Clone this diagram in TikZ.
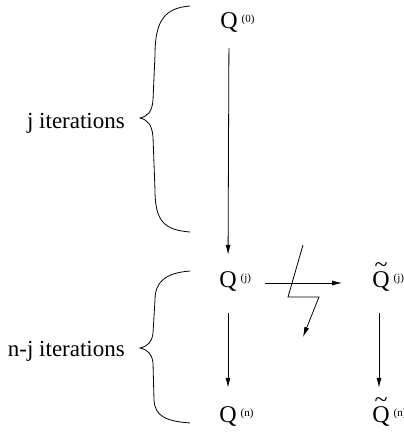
\documentclass[tikz,border=0pt]{standalone}
\usepackage{fontspec}
\setmainfont{Liberation Serif}
\usetikzlibrary{arrows.meta}
\newcommand{\supf}{\fontsize{11}{11}\selectfont}
\newcommand{\qsup}[2]{#1\rlap{\,\raisebox{6.5pt}{\supf(#2)}}}
\newcommand{\tilq}{\leavevmode\setbox0\hbox{Q}\rlap{\hbox to \wd0{\hss\raisebox{15pt}{\~{}}\hss}}Q}
\begin{document}
\begin{tikzpicture}[x=1pt,y=-1pt,
  qnode/.style={inner sep=0pt,text height=15pt,text depth=0pt,font=\fontsize{24}{28}\selectfont},
  lbl/.style={inner sep=0pt,anchor=base east,font=\fontsize{23}{27}\selectfont},
  arr/.style={line width=0.8pt,-{Latex[length=10pt,width=5pt]}},
  brc/.style={line width=0.8pt}]
\useasboundingbox (0,0) rectangle (404,432);
% nodes
\node[qnode] (q0) at (229,21) {\qsup{Q}{0}};
\node[qnode] (qj) at (228,280) {\qsup{Q}{j}};
\node[qnode] (qn) at (228,415) {\qsup{Q}{n}};
\node[qnode] (tqj) at (381,280) {\qsup{\tilq}{j}};
\node[qnode] (tqn) at (381,415) {\qsup{\tilq}{n}};
\node[lbl] (l1) at (125,128) {j iterations};
\node[lbl] (l2) at (125,356) {n-j iterations};
% arrows
\draw[arr,shorten <=19.5pt,shorten >=17.5pt] (q0.south) -- (qj.north);
\draw[arr,shorten <=25.5pt,shorten >=19.5pt] (qj.south) -- (qn.north);
\draw[arr,shorten <=25.5pt,shorten >=19.5pt] ([xshift=-2pt]tqj.south) -- ([xshift=-2pt]tqn.north);
\draw[arr,shorten <=28pt,shorten >=30pt] ([yshift=-3pt]qj.east) -- ([yshift=-3pt]tqj.west);
% lightning
\coordinate (z1) at (303,245);
\coordinate (z2) at (288,297);
\coordinate (z3) at (319,297);
\coordinate (z4) at (303,337);
\draw[arr] (z1) -- (z2) -- (z3) -- (z4);
% braces
\draw[brc] (190,6) .. controls (165,8) and (155,20) .. (155,55)
  -- (153,100) .. controls (152,112) and (148,116) .. (140,118)
  .. controls (148,120) and (152,125) .. (153,137)
  -- (155,190) .. controls (155,222) and (165,230) .. (190,232);
\draw[brc] (190,271) .. controls (165,273) and (155,282) .. (155,300)
  -- (153,333) .. controls (152,342) and (148,346) .. (140,348)
  .. controls (148,350) and (152,354) .. (153,363)
  -- (154,400) .. controls (155,416) and (165,421) .. (190,423);
\end{tikzpicture}
\end{document}
